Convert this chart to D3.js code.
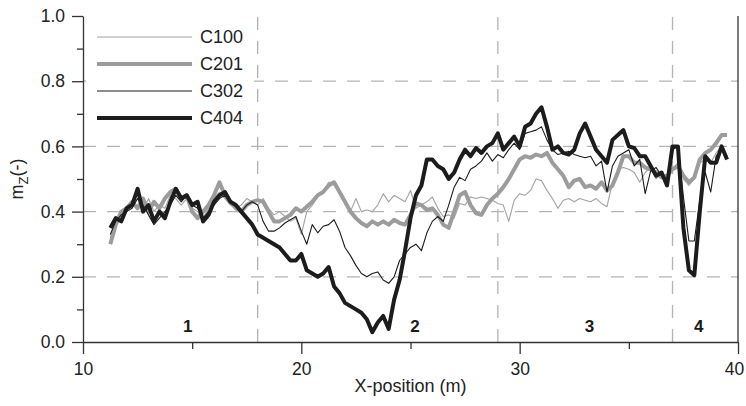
<!DOCTYPE html>
<html><head><meta charset="utf-8">
<script src="https://cdn.jsdelivr.net/npm/d3@7"></script>
<style>body{margin:0;background:#fff}svg{display:block;font-family:"Liberation Sans",Arial,sans-serif}</style>
</head><body><svg id="c" width="746" height="406"></svg>
<script>
// ---- data ----
const seriesNames = ["C100", "C201", "C302", "C404"];
// sample positions along X (m): 11.25 .. 39.5 every 0.25 m
const xSamples = d3.range(11.25, 39.5001, 0.25);

const c100 = [
  0.32,0.37,0.39,0.40, 0.42,0.44,0.40,0.44, 0.40,0.42,0.41,0.45, 0.44,0.42,0.44,0.41,
  0.40,0.38,0.41,0.44, 0.46,0.44,0.42,0.41, 0.42,0.44,0.43,0.42, 0.44,0.41,0.39,0.40,
  0.385,0.37,0.38,0.33, 0.40,0.42,0.445,0.46, 0.49,0.49,0.46,0.425, 0.40,0.44,0.40,0.405,
  0.40,0.42,0.455,0.43, 0.45,0.44,0.43,0.465, 0.41,0.42,0.43,0.445, 0.41,0.385,0.39,0.38,
  0.425,0.42,0.445,0.44, 0.445,0.44,0.435,0.425, 0.42,0.37,0.435,0.455, 0.45,0.465,0.50,0.495,
  0.465,0.44,0.41,0.435, 0.44,0.43,0.44,0.435, 0.43,0.44,0.425,0.415, 0.49,0.53,0.535,0.53,
  0.52,0.49,0.52,0.535, 0.50,0.52,0.50,0.53, 0.55,0.50,0.48,0.50, 0.55,0.56,0.55,0.58,
  0.60,0.60
];
const c201 = [
  0.30,0.36,0.40,0.41, 0.43,0.41,0.44,0.40, 0.43,0.41,0.44,0.46, 0.47,0.44,0.45,0.40,
  0.38,0.40,0.42,0.45, 0.49,0.45,0.43,0.41, 0.40,0.42,0.43,0.435, 0.43,0.40,0.37,0.37,
  0.38,0.39,0.41,0.40, 0.415,0.43,0.45,0.46, 0.48,0.49,0.46,0.43, 0.40,0.38,0.365,0.355,
  0.37,0.36,0.37,0.36, 0.375,0.365,0.36,0.39, 0.425,0.42,0.405,0.41, 0.39,0.36,0.35,0.40,
  0.45,0.46,0.42,0.395, 0.39,0.42,0.44,0.455, 0.475,0.50,0.53,0.56, 0.57,0.565,0.575,0.57,
  0.58,0.55,0.53,0.51, 0.475,0.495,0.50,0.475, 0.48,0.47,0.49,0.465, 0.48,0.52,0.57,0.57,
  0.55,0.55,0.535,0.53, 0.52,0.505,0.51,0.53, 0.54,0.51,0.49,0.505, 0.56,0.58,0.59,0.61,
  0.635,0.635
];
const c302 = [
  0.33,0.37,0.39,0.40, 0.41,0.44,0.42,0.39, 0.36,0.38,0.40,0.42, 0.45,0.43,0.45,0.42,
  0.41,0.38,0.40,0.42, 0.44,0.45,0.43,0.42, 0.40,0.42,0.43,0.42, 0.37,0.34,0.34,0.35,
  0.365,0.375,0.385,0.34, 0.30,0.36,0.335,0.355, 0.36,0.375,0.34,0.29, 0.265,0.235,0.21,0.20,
  0.21,0.215,0.19,0.18, 0.20,0.25,0.27,0.29, 0.30,0.28,0.335,0.37, 0.385,0.37,0.42,0.475,
  0.505,0.495,0.53,0.54, 0.555,0.58,0.555,0.575, 0.565,0.59,0.61,0.59, 0.64,0.645,0.65,0.66,
  0.62,0.59,0.575,0.58, 0.585,0.575,0.57,0.565, 0.57,0.54,0.555,0.46, 0.54,0.57,0.58,0.59,
  0.54,0.56,0.455,0.525, 0.535,0.51,0.50,0.59, 0.60,0.445,0.31,0.31, 0.435,0.52,0.46,0.57,
  0.59,0.57
];
const c404 = [
  0.35,0.38,0.37,0.41, 0.42,0.47,0.40,0.42, 0.37,0.40,0.38,0.43, 0.47,0.44,0.45,0.42,
  0.43,0.37,0.39,0.43, 0.45,0.46,0.43,0.42, 0.40,0.38,0.36,0.33, 0.32,0.31,0.30,0.29,
  0.27,0.25,0.25,0.27, 0.22,0.21,0.20,0.21, 0.23,0.17,0.15,0.12, 0.11,0.10,0.09,0.07,
  0.03,0.06,0.08,0.04, 0.13,0.19,0.28,0.38, 0.45,0.48,0.56,0.56, 0.54,0.53,0.50,0.52,
  0.56,0.59,0.57,0.595, 0.58,0.60,0.61,0.64, 0.59,0.61,0.63,0.60, 0.66,0.67,0.70,0.72,
  0.66,0.59,0.60,0.58, 0.575,0.59,0.64,0.67, 0.63,0.59,0.57,0.55, 0.62,0.635,0.65,0.60,
  0.595,0.57,0.57,0.54, 0.51,0.52,0.48,0.60, 0.60,0.35,0.22,0.205, 0.40,0.57,0.55,0.55,
  0.60,0.56
];

const xTickValues = [10, 20, 30, 40];
const xMinorTickValues = [15, 25, 35];
const yTickValues = [0, 0.2, 0.4, 0.6, 0.8, 1.0];
const yMinorTickValues = [0.1, 0.3, 0.5, 0.7, 0.9];
const yGridValues = [0.2, 0.4, 0.6, 0.8];
const zoneBounds = [18, 29, 37];
const zoneLabels = ["1", "2", "3", "4"];
const zoneLabelX = [14.8, 25.2, 33.2, 38.2];

// ---- styles ----
const styles = {
  C100: {color: "#a2a2a2", width: 1.1},
  C201: {color: "#9c9c9c", width: 4},
  C302: {color: "#1c1c1c", width: 1.1},
  C404: {color: "#1c1c1c", width: 4}
};
const seriesData = {C100: c100, C201: c201, C302: c302, C404: c404};

const svg = d3.select("#c");
const x = d3.scaleLinear().domain([10, 40]).range([83, 738]);
const y = d3.scaleLinear().domain([0, 1]).range([342, 16]);

// grid
const grid = svg.append("g").attr("stroke", "#b4b4b4").attr("stroke-width", 1.3)
  .attr("stroke-dasharray", "13,11").attr("fill", "none");
grid.selectAll("line.h").data(yGridValues).join("line").attr("class", "h")
  .attr("x1", x(10)).attr("x2", x(40)).attr("y1", d => y(d)).attr("y2", d => y(d));
grid.selectAll("line.v").data(zoneBounds).join("line").attr("class", "v")
  .attr("x1", d => x(d)).attr("x2", d => x(d)).attr("y1", y(0)).attr("y2", y(1));

// legend background (covers grid)
svg.append("rect").attr("x", 86).attr("y", 22).attr("width", 168).attr("height", 110).attr("fill", "#fff");

// lines
const line = d3.line().x((d, i) => x(xSamples[i])).y(d => y(d));
seriesNames.forEach(n => {
  svg.append("path").datum(seriesData[n])
    .attr("fill", "none").attr("stroke", styles[n].color).attr("stroke-width", styles[n].width)
    .attr("stroke-linejoin", "round").attr("stroke-linecap", "butt")
    .attr("d", line);
});

// axes
const axisColor = "#333";
const gx = svg.append("g").attr("transform", `translate(0,${y(0)})`)
  .call(d3.axisBottom(x).tickValues(xTickValues).tickFormat(d3.format("d")).tickSize(12).tickSizeOuter(0).tickPadding(9));
const gxm = svg.append("g").attr("transform", `translate(0,${y(0)})`)
  .call(d3.axisBottom(x).tickValues(xMinorTickValues).tickFormat("").tickSize(7).tickSizeOuter(0));
const gy = svg.append("g").attr("transform", `translate(${x(10)},0)`)
  .call(d3.axisLeft(y).tickValues(yTickValues).tickFormat(d3.format(".1f")).tickSize(11).tickSizeOuter(0).tickPadding(7));
const gym = svg.append("g").attr("transform", `translate(${x(10)},0)`)
  .call(d3.axisLeft(y).tickValues(yMinorTickValues).tickFormat("").tickSize(6).tickSizeOuter(0));
[gx, gxm, gy, gym].forEach(g => {
  g.selectAll("path,line").attr("stroke", axisColor).attr("stroke-width", 1.3);
  g.selectAll("text").attr("fill", "#222").style("font-size", "17.5px").style("font-family", '"Liberation Sans", Arial, sans-serif');
});
// keep the last x label inside the page
gx.selectAll(".tick text").filter(d => d === 40).attr("dx", -4);
gxm.select(".domain").remove();
gym.select(".domain").remove();
// right border
svg.append("line").attr("x1", x(40)).attr("x2", x(40)).attr("y1", y(0)).attr("y2", y(1))
  .attr("stroke", axisColor).attr("stroke-width", 1.3);

// zone labels
svg.selectAll("text.zone").data(zoneLabels).join("text").attr("class", "zone")
  .attr("x", (d, i) => x(zoneLabelX[i])).attr("y", 332)
  .attr("text-anchor", "middle").attr("font-weight", "bold").attr("font-size", 17).attr("fill", "#1a1a1a")
  .text(d => d);

// axis titles
svg.append("text").attr("x", (x(10) + x(40)) / 2).attr("y", 392).attr("text-anchor", "middle")
  .attr("font-size", 18).attr("fill", "#222").text("X-position (m)");
const yt = svg.append("text").attr("transform", `translate(23,${(y(0) + y(1)) / 2}) rotate(-90)`)
  .attr("text-anchor", "middle").attr("font-size", 18).attr("fill", "#222");
yt.append("tspan").text("m");
yt.append("tspan").attr("font-size", 13).attr("dy", 5).text("Z");
yt.append("tspan").attr("dy", -5).text("(-)");

// legend
const lg = svg.append("g");
const legendRowY = d3.scalePoint().domain(seriesNames).range([37, 118]);
seriesNames.forEach(n => {
  lg.append("line").attr("x1", 97).attr("x2", 192).attr("y1", legendRowY(n)).attr("y2", legendRowY(n))
    .attr("stroke", styles[n].color).attr("stroke-width", styles[n].width);
  lg.append("text").attr("x", 200).attr("y", legendRowY(n)).attr("dy", "0.36em")
    .attr("font-size", 18).attr("fill", "#222").text(n);
});
</script></body></html>
